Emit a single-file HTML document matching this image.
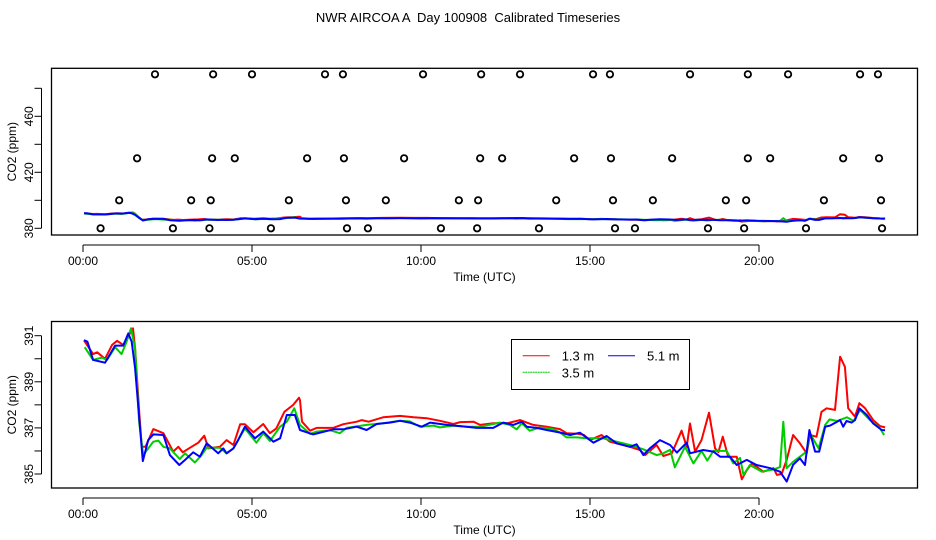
<!DOCTYPE html>
<html><head><meta charset="utf-8"><style>
html,body{margin:0;padding:0;background:#fff;}
svg{display:block;font-family:"Liberation Sans",Arial,sans-serif;}
</style></head><body>
<svg id="chart" width="936" height="540" viewBox="0 0 936 540" xmlns="http://www.w3.org/2000/svg">
<text x="468" y="22" font-size="13" text-anchor="middle" style="white-space:pre">NWR AIRCOA A  Day 100908  Calibrated Timeseries</text>
<g id="topPanel"></g>
<g id="botPanel"></g>
</svg>
<script>
const timeTicks = [0, 5, 10, 15, 20];
const timeTickLabels = ["00:00", "05:00", "10:00", "15:00", "20:00"];
const topYTicks = [380, 400, 420, 440, 460, 480];
const topYLabels = ["380", "", "420", "", "460", ""];
const botYTicks = [385, 386, 387, 388, 389, 390, 391];
const botYLabels = ["385", "", "387", "", "389", "", "391"];
const seriesNames = ["1.3 m", "3.5 m", "5.1 m"];

const redTimes = [0.03,0.30,0.42,0.65,0.86,1.01,1.19,1.36,1.48,1.54,1.67,1.74,1.85,2.08,2.38,2.67,2.82,2.95,3.21,3.41,3.59,3.71,4.05,4.25,4.45,4.65,4.79,5.04,5.33,5.53,5.72,5.96,6.22,6.39,6.42,6.48,6.72,6.91,7.40,7.70,8.10,8.25,8.45,8.88,9.38,9.78,10.17,10.56,10.96,11.16,11.55,11.75,12.14,12.54,12.93,13.32,13.72,14.11,14.31,14.61,14.81,15.0,15.34,15.59,16.18,16.48,16.63,16.97,17.17,17.42,17.71,17.86,17.96,18.11,18.30,18.52,18.70,18.80,18.93,19.09,19.34,19.49,19.64,19.79,20.13,20.43,20.53,20.67,20.82,21.01,21.21,21.41,21.51,21.70,21.85,22.00,22.25,22.40,22.54,22.64,22.84,22.97,23.14,23.38,23.58,23.73];
const redValues = [390.8,390.2,390.28,390.0,390.6,390.78,390.6,391.03,391.32,390.45,387.56,386.18,386.18,386.95,386.77,385.97,386.18,385.94,386.18,386.36,386.66,386.11,386.18,386.47,386.26,387.16,387.16,386.81,387.17,386.77,386.98,387.7,388.0,388.31,388.2,387.27,386.88,387.0,387.0,387.16,387.27,387.34,387.27,387.46,387.52,387.46,387.42,387.31,387.17,387.25,387.27,387.13,387.2,387.2,387.34,387.13,387.05,386.95,386.77,386.75,386.7,386.47,386.69,386.4,386.18,386.04,385.82,386.26,385.78,385.9,386.88,386.18,387.19,385.97,386.47,387.66,386.11,385.95,386.62,385.75,385.75,384.77,385.17,385.46,385.1,385.25,384.96,385.0,385.61,386.69,386.33,385.9,386.69,386.62,387.7,387.85,387.78,390.09,389.65,387.85,387.49,388.07,387.85,387.34,387.08,387.02];

const greenTimes = [0.05,0.30,0.56,0.71,0.95,1.14,1.29,1.42,1.54,1.66,1.78,2.08,2.23,2.38,2.57,2.86,3.02,3.31,3.51,3.66,4.05,4.25,4.45,4.79,5.13,5.33,5.53,5.83,6.03,6.25,6.42,6.72,6.91,7.30,7.60,7.80,8.39,8.88,9.38,9.67,9.97,10.37,10.56,10.96,11.35,11.75,12.34,12.63,12.83,12.98,13.22,13.52,13.91,14.11,14.31,14.61,14.90,15.39,15.79,16.18,16.58,16.97,17.17,17.37,17.51,17.81,18.06,18.30,18.47,18.65,19.04,19.24,19.44,19.54,19.73,20.09,20.43,20.62,20.72,20.82,21.01,21.41,21.51,21.76,21.96,22.09,22.31,22.60,22.80,22.99,23.28,23.58,23.70];
const greenValues = [390.5,389.95,390.05,389.95,390.5,390.2,390.74,391.32,390.45,387.27,385.82,386.4,386.45,386.18,386.11,385.65,385.9,385.5,385.82,386.14,386.14,385.9,386.11,386.98,386.36,386.77,386.43,387.05,387.27,387.85,387.13,386.74,386.84,386.9,386.77,387.0,387.13,387.2,387.31,387.28,387.05,387.1,387.02,387.1,387.05,387.05,387.23,387.13,386.94,387.2,386.88,387.02,386.95,386.8,386.59,386.59,386.55,386.55,386.4,386.26,386.07,385.82,385.9,386.05,385.29,386.18,385.46,386.0,385.58,386.0,386.0,385.46,385.7,384.96,385.39,385.1,385.2,385.3,387.27,385.25,385.53,385.97,386.77,386.11,387.13,387.37,387.3,387.46,387.3,387.78,387.34,386.98,386.69];

const blueTimes = [0.03,0.13,0.30,0.65,0.95,1.19,1.34,1.44,1.54,1.64,1.77,1.93,2.08,2.38,2.57,2.85,3.02,3.26,3.46,3.66,4.00,4.15,4.25,4.45,4.59,4.79,5.09,5.33,5.63,5.83,6.03,6.27,6.42,6.81,7.41,7.70,8.10,8.39,8.69,9.08,9.38,9.67,10.02,10.27,10.76,11.35,11.65,12.14,12.43,12.73,12.98,13.13,13.42,13.72,14.11,14.41,14.70,15.10,15.49,15.79,16.18,16.38,16.58,16.77,17.07,17.37,17.57,17.86,17.96,18.35,18.65,18.85,19.14,19.34,19.64,19.93,20.33,20.62,20.82,21.01,21.21,21.36,21.49,21.66,21.78,21.96,22.10,22.40,22.49,22.59,22.74,22.84,22.97,23.19,23.38,23.63,23.73];
const blueValues = [390.81,390.74,389.95,389.83,390.57,390.57,391.1,390.74,389.59,387.85,385.56,386.47,386.72,386.69,385.82,385.39,385.61,385.94,385.75,386.33,385.9,386.11,385.9,386.11,386.47,387.05,386.55,386.84,386.4,386.55,387.56,387.56,386.91,386.72,386.94,386.94,387.05,386.91,387.17,387.23,387.31,387.23,387.05,387.23,387.13,387.05,387.0,387.0,387.23,387.13,387.27,387.05,387.0,386.91,386.8,386.69,386.79,386.36,386.65,386.33,386.18,386.29,385.82,386.11,386.47,386.26,385.93,386.36,385.9,386.04,385.97,385.75,385.75,385.39,385.61,385.39,385.25,385.1,384.67,385.4,385.68,385.39,386.91,385.97,385.97,387.05,387.1,387.34,387.05,387.3,387.23,387.34,387.85,387.56,387.19,386.91,386.9];

const flag490Times = [2.13,3.85,5.0,7.16,7.69,10.06,11.78,12.93,15.09,15.59,17.96,19.67,20.86,22.99,23.52];
const flag430Times = [1.60,3.82,4.49,6.63,7.72,9.50,11.75,12.40,14.53,15.62,17.43,19.67,20.33,22.49,23.55];
const flag400Times = [1.07,3.20,3.78,6.09,7.78,8.96,11.12,11.69,14.0,15.68,16.86,19.02,19.62,21.92,23.61];
const flag380Times = [0.52,2.66,3.74,5.56,7.81,8.43,10.59,11.66,13.49,15.74,16.33,18.49,19.56,21.39,23.64];
const flagLevels = [490, 430, 400, 380];

const NS = "http://www.w3.org/2000/svg";
function mk(tag, attrs, parent){const e=document.createElementNS(NS,tag);for(const k in attrs)e.setAttribute(k,attrs[k]);parent.appendChild(e);return e;}
const xL=51.5, xR=917.5;
function xScale(t){return 83 + t*33.8;}

function panel(g, y0, y1, yScale, yTicks, yLabels, name){
  const box = mk("rect",{x:xL,y:y0,width:xR-xL,height:y1-y0,fill:"none",stroke:"#000","stroke-width":1.3},g);
  
  
  const xa = mk("g",{},g);
  
  
  mk("line",{x1:xScale(timeTicks[0]),x2:xScale(timeTicks[timeTicks.length-1]),y1:y1+10,y2:y1+10,stroke:"#000"},xa);
  timeTicks.forEach((t,i)=>{
    mk("line",{x1:xScale(t),x2:xScale(t),y1:y1+10,y2:y1+17,stroke:"#000"},xa);
    const tx = mk("text",{x:xScale(t),y:y1+30,"font-size":12,"text-anchor":"middle"},xa);
    tx.textContent = timeTickLabels[i];
    
    
  });
  const xt = mk("text",{x:(xL+xR)/2,y:y1+46,"font-size":12,"text-anchor":"middle"},g);
  xt.textContent = "Time (UTC)";
  
  
  const ya = mk("g",{},g);
  
  
  mk("line",{x1:xL-10,x2:xL-10,y1:yScale(yTicks[0]),y2:yScale(yTicks[yTicks.length-1]),stroke:"#000"},ya);
  yTicks.forEach((v,i)=>{
    const y=yScale(v);
    mk("line",{x1:xL-17,x2:xL-10,y1:y,y2:y,stroke:"#000"},ya);
    if(yLabels[i]){
      const tx = mk("text",{x:0,y:0,"font-size":12,"text-anchor":"middle",transform:`translate(33,${y}) rotate(-90)`},ya);
      tx.textContent = yLabels[i];
      
      
    }
  });
  const yt = mk("text",{x:0,y:0,"font-size":12,"text-anchor":"middle",transform:`translate(16,${(y0+y1)/2}) rotate(-90)`},g);
  yt.textContent = "CO2 (ppm)";
  
  
  const sets=[[redTimes,redValues,"#ff0000","red"],[greenTimes,greenValues,"#00cd00","green"],[blueTimes,blueValues,"#0000ff","blue"]];
  sets.forEach(s=>{
    const d = s[0].map((t,i)=>(i?"L":"M")+xScale(t).toFixed(1)+","+yScale(s[1][i]).toFixed(1)).join(" ");
    const p = mk("path",{d:d,fill:"none",stroke:s[2],"stroke-width":2,"stroke-linejoin":"round"},g);
    
    
  });
}

const topG = document.getElementById("topPanel");
const topY = v => 228.3 - (v-380)*1.4;
panel(topG, 68.3, 235, topY, topYTicks, topYLabels, "top");
[flag490Times, flag430Times, flag400Times, flag380Times].forEach((arr,j)=>{
  arr.forEach(t=>{
    const c = mk("circle",{cx:xScale(t),cy:topY(flagLevels[j]),r:3.2,fill:"none",stroke:"#000","stroke-width":1.8},topG);
    
    
  });
});

const botG = document.getElementById("botPanel");
const botY = v => 474 - (v-385)*23.05;
panel(botG, 321.5, 488, botY, botYTicks, botYLabels, "bottom");

const lg = mk("g",{},botG);


mk("rect",{x:511.5,y:339.5,width:178,height:50,fill:"#fff",stroke:"#000","stroke-width":1},lg);
const legItems=[[522.7,355.7,"#ff0000",0,null],[522.7,372.3,"#00cd00",1,"2,0.5"],[608,355.7,"#0000ff",2,null]];
legItems.forEach(it=>{
  const e = mk("g",{},lg);
  
  
  const ln = mk("line",{x1:it[0],x2:it[0]+27,y1:it[1],y2:it[1],stroke:it[2],"stroke-width":1},e);
  if(it[4]) ln.setAttribute("stroke-dasharray", it[4]);
  const tx = mk("text",{x:it[0]+39,y:it[1]+5,"font-size":13},e);
  tx.textContent = seriesNames[it[3]];
});
</script>
</body></html>
